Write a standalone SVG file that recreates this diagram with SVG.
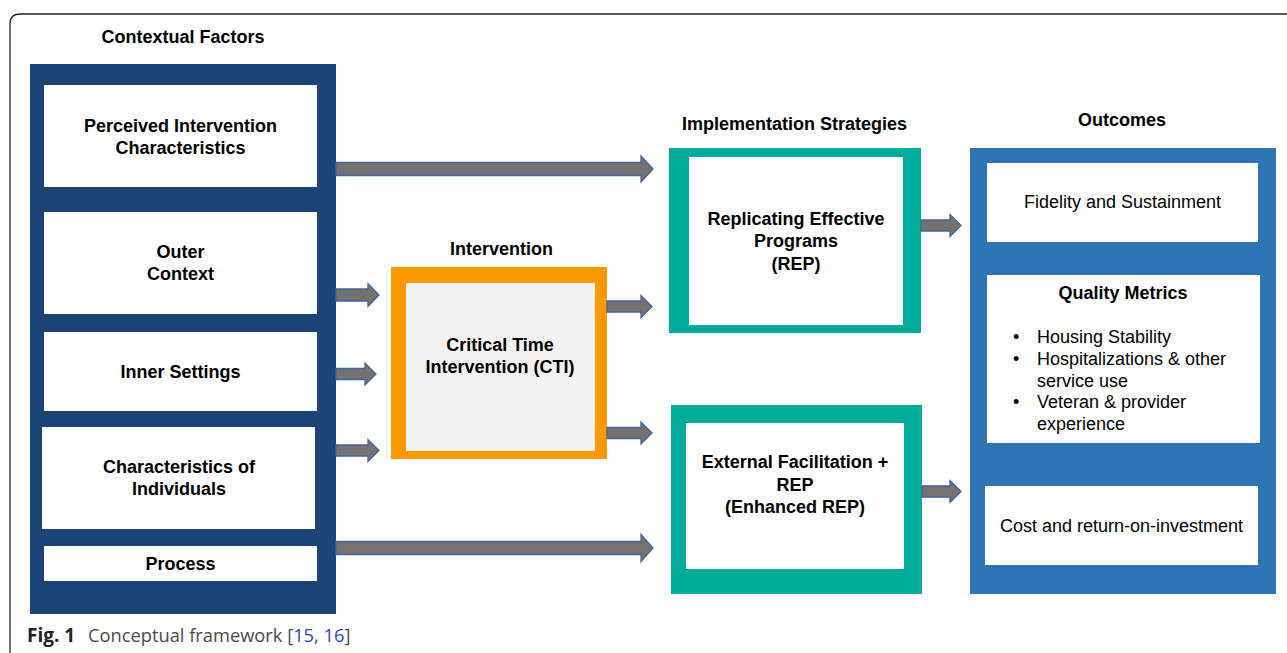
<svg xmlns="http://www.w3.org/2000/svg" width="1287" height="653" viewBox="0 0 1287 653">
<style>
  .t { font-family: "Liberation Sans", Arial, sans-serif; font-size: 18px; fill: #000; text-anchor: middle; }
  .b { font-weight: bold; }
  .l { text-anchor: start; }
  .white { fill: #ffffff; }
  .arrow { fill: #767171; stroke: #41659c; stroke-width: 1.3; stroke-linejoin: miter; }
  .cap { font-family: "Open Sans", "Noto Sans", sans-serif; font-size: 18.3px; fill: #4a4a4a; }
</style>
<rect width="1287" height="653" fill="#ffffff"/>
<path d="M10,653 V24 Q10,14 20,14 H1287" fill="none" stroke="#222" stroke-width="1.3"/>

<g id="contextual-factors">
  <text class="t b" x="183" y="43">Contextual Factors</text>
  <rect x="30" y="64" width="306" height="550" fill="#1c4477"/>
</g>
<g id="perceived">
  <rect class="white" x="44" y="85" width="273" height="102"/>
  <text class="t b" x="180.5" y="132">Perceived Intervention</text>
  <text class="t b" x="180.5" y="154">Characteristics</text>
</g>
<g id="outer-context">
  <rect class="white" x="44" y="212" width="273" height="102"/>
  <text class="t b" x="180.5" y="258">Outer</text>
  <text class="t b" x="180.5" y="280">Context</text>
</g>
<g id="inner-settings">
  <rect class="white" x="44" y="332" width="273" height="79"/>
  <text class="t b" x="180.5" y="378">Inner Settings</text>
</g>
<g id="characteristics">
  <rect class="white" x="42" y="427" width="273" height="102"/>
  <text class="t b" x="179" y="473">Characteristics of</text>
  <text class="t b" x="179" y="495">Individuals</text>
</g>
<g id="process">
  <rect class="white" x="44" y="546" width="273" height="35"/>
  <text class="t b" x="180.5" y="570">Process</text>
</g>

<g id="intervention">
  <text class="t b" x="501.5" y="255">Intervention</text>
  <rect x="391" y="267" width="216" height="192" fill="#ff9900"/>
  <rect x="406" y="283" width="189" height="168" fill="#f2f2f2"/>
  <text class="t b" x="500" y="351">Critical Time</text>
  <text class="t b" x="500" y="373">Intervention (CTI)</text>
</g>

<g id="rep">
  <text class="t b" x="794.5" y="130">Implementation Strategies</text>
  <rect x="669" y="148" width="252" height="185" fill="#00ab9b"/>
  <rect class="white" x="689" y="157" width="214" height="168"/>
  <text class="t b" x="796" y="225">Replicating Effective</text>
  <text class="t b" x="796" y="247">Programs</text>
  <text class="t b" x="796" y="270">(REP)</text>
</g>

<g id="enhanced-rep">
  <rect x="671" y="405" width="251" height="189" fill="#00ab9b"/>
  <rect class="white" x="686" y="423" width="218" height="146"/>
  <text class="t b" x="795" y="468">External Facilitation +</text>
  <text class="t b" x="795" y="491">REP</text>
  <text class="t b" x="795" y="513">(Enhanced REP)</text>
</g>

<g id="outcomes">
  <text class="t b" x="1122" y="126">Outcomes</text>
  <rect x="970" y="148" width="306" height="446" fill="#2e75b6"/>
</g>
<g id="fidelity">
  <rect class="white" x="987" y="163" width="271" height="79"/>
  <text class="t" x="1122.5" y="208">Fidelity and Sustainment</text>
</g>
<g id="quality-metrics">
  <rect class="white" x="987" y="275" width="273" height="168"/>
  <text class="t b" x="1123" y="299">Quality Metrics</text>
  <text class="t l" x="1013" y="343">•</text>
  <text class="t l" x="1037" y="343">Housing Stability</text>
  <text class="t l" x="1013" y="365">•</text>
  <text class="t l" x="1037" y="365">Hospitalizations &amp; other</text>
  <text class="t l" x="1037" y="387">service use</text>
  <text class="t l" x="1013" y="408">•</text>
  <text class="t l" x="1037" y="408">Veteran &amp; provider</text>
  <text class="t l" x="1037" y="430">experience</text>
</g>
<g id="cost">
  <rect class="white" x="985" y="486" width="273" height="79"/>
  <text class="t" x="1121.5" y="532">Cost and return-on-investment</text>
</g>

<g id="connectors">
  <polygon class="arrow" points="336,162.5 641,162.5 641,156 653,169 641,182 641,175.5 336,175.5"/>
  <polygon class="arrow" points="336,289 368,289 368,283.5 379,295 368,306.5 368,301 336,301"/>
  <polygon class="arrow" points="336,368.5 365,368.5 365,363 376,374 365,385 365,379.5 336,379.5"/>
  <polygon class="arrow" points="336,445 368,445 368,439.5 379,450.5 368,461.5 368,456 336,456"/>
  <polygon class="arrow" points="336,541.5 641,541.5 641,534.5 653,548 641,561.5 641,554.5 336,554.5"/>
  <polygon class="arrow" points="607,301 641,301 641,295.5 652,306.5 641,317.5 641,312 607,312"/>
  <polygon class="arrow" points="607,427.5 641,427.5 641,422 652,433 641,444 641,438.5 607,438.5"/>
  <polygon class="arrow" points="921,220 950,220 950,214.5 961,225.5 950,236.5 950,231 921,231"/>
  <polygon class="arrow" points="922,486 950,486 950,480.5 961,491.5 950,502.5 950,497 922,497"/>
</g>

<text class="cap" x="27" y="642"><tspan font-weight="bold" fill="#222" font-size="19">Fig. 1</tspan><tspan x="88">Conceptual framework [</tspan><tspan fill="#3344cc">15</tspan><tspan>, </tspan><tspan fill="#3344cc">16</tspan><tspan>]</tspan></text>
</svg>
